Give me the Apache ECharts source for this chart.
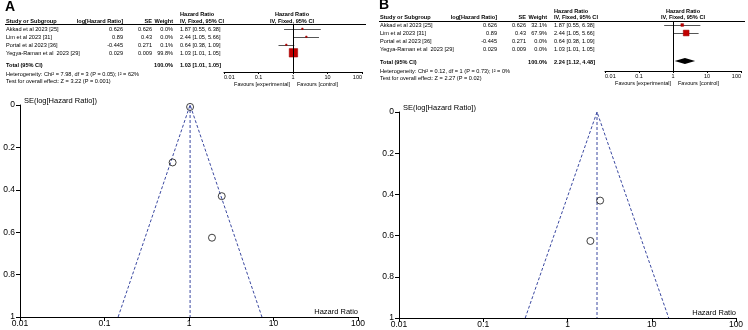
<!DOCTYPE html>
<html>
<head>
<meta charset="utf-8">
<script src="https://cdn.jsdelivr.net/npm/echarts@6/dist/echarts.min.js"></script>
<style>
html, body { margin: 0; padding: 0; background: #fff; }
#chart { width: 748px; height: 330px; }
</style>
</head>
<body>
<div id="chart"></div>
<script>
// study table (same four studies in both panels)
const studies = ['Akkad et al 2023 [25]', 'Lim et al 2023 [31]', 'Portal et al 2023 [36]', 'Yegya-Raman et al  2023 [29]'];
const logHRText = ['0.626', '0.89', '-0.445', '0.029'];
const seText = ['0.626', '0.43', '0.271', '0.009'];
const se = [0.626, 0.43, 0.271, 0.009];
const hr = [1.87, 2.44, 0.64, 1.03];
const ciLow = [0.55, 1.05, 0.38, 1.01];
const ciHigh = [6.38, 5.66, 1.09, 1.05];
const weightA = [0.0, 0.0, 0.1, 99.8];
const weightB = [32.1, 67.9, 0.0, 0.0];

// pooled results, panel A then B
const totalHR = [1.03, 2.24];
const totalLow = [1.01, 1.12];
const totalHigh = [1.05, 4.48];
const heterogeneity = [
  'Heterogeneity: Chi\u00b2 = 7.98, df = 3 (P = 0.05); I\u00b2 = 62%',
  'Heterogeneity: Chi\u00b2 = 0.12, df = 1 (P = 0.73); I\u00b2 = 0%'
];
const overallEffect = [
  'Test for overall effect: Z = 3.22 (P = 0.001)',
  'Test for overall effect: Z = 2.27 (P = 0.02)'
];
// funnel pseudo 95% limits at SE = 1
const funnelLow = [0.145, 0.315];
const funnelHigh = [7.3, 15.9];

const FONT = 'Liberation Sans, Arial, sans-serif';
const BLUE = '#3a48a0';
const TS = 5.6; // table font size

const panels = [
  { dx: 0, label: 'A', labelY: 7, weights: weightA, hdr1: 14, hdr2: 21, rule: 24, row0: 29, totalY: 65, hetY: 74, testY: 81,
    ruleX: [5, 366], forestTop: 24, forestH: 48, yMin: -0.6, yMax: 5.4, forestL: 224, forestW: 138, forestC: 292,
    funnel: { left: 20, width: 338, top: 105, height: 212 }, seLabelY: 101, hrLabelY: 312 },
  { dx: 374, label: 'B', labelY: 5, weights: weightB, hdr1: 11, hdr2: 17, rule: 21, row0: 25, totalY: 62, hetY: 71, testY: 78,
    ruleX: [379, 745], forestTop: 21, forestH: 50, yMin: -0.5, yMax: 5.75, forestL: 605, forestW: 136, forestC: 683,
    funnel: { left: 399, width: 337, top: 112, height: 206 }, seLabelY: 108, hrLabelY: 313 }
];

function txt(text, x, y, opt) {
  opt = opt || {};
  return {
    type: 'text', silent: true, z: 10,
    style: {
      text: text, x: x, y: y,
      fontSize: opt.size || TS, fontFamily: FONT, fontWeight: opt.bold ? 'bold' : 'normal',
      fill: '#000',
      align: opt.align || 'left', textAlign: opt.align || 'left',
      verticalAlign: 'middle', textVerticalAlign: 'middle'
    }
  };
}

function renderStudy(params, api) {
  const y = api.value(3);
  const lo = api.coord([api.value(0), y]);
  const hi = api.coord([api.value(1), y]);
  const c = api.coord([api.value(2), y]);
  const s = Math.max(1.5, 8.5 * api.value(4) / 100);
  const ly = Math.round(c[1]) + 0.5;
  return {
    type: 'group',
    children: [
      { type: 'line', shape: { x1: lo[0], y1: ly, x2: hi[0], y2: ly }, style: { stroke: '#555', lineWidth: 1 } },
      { type: 'rect', shape: { x: c[0] - s / 2, y: c[1] - s / 2, width: s, height: s },
        style: { fill: '#c20000', stroke: '#9a0000', lineWidth: 0.5 } }
    ]
  };
}

function renderDiamond(params, api) {
  const y = api.value(3);
  const lo = api.coord([api.value(0), y]);
  const hi = api.coord([api.value(1), y]);
  const c = api.coord([api.value(2), y]);
  return {
    type: 'polygon',
    shape: { points: [[lo[0], c[1]], [c[0], c[1] - 3], [hi[0], c[1]], [c[0], c[1] + 3]] },
    style: { fill: '#000' }
  };
}

const grid = [], xAxis = [], yAxis = [], series = [], graphic = [];

panels.forEach(function (p, k) {
  const dx = p.dx;
  // panel letter
  graphic.push(txt(p.label, dx + 5, p.labelY, { size: 14, bold: true }));
  // headers
  graphic.push(txt('Hazard Ratio', dx + 180, p.hdr1, { bold: true }));
  graphic.push(txt('Study or Subgroup', dx + 6, p.hdr2, { bold: true }));
  graphic.push(txt('log[Hazard Ratio]', dx + 123, p.hdr2, { bold: true, align: 'right' }));
  graphic.push(txt('SE', dx + 152, p.hdr2, { bold: true, align: 'right' }));
  graphic.push(txt('Weight', dx + 173, p.hdr2, { bold: true, align: 'right' }));
  graphic.push(txt('IV, Fixed, 95% CI', dx + 180, p.hdr2, { bold: true }));
  graphic.push(txt('Hazard Ratio', p.forestC, p.hdr1, { bold: true, align: 'center' }));
  graphic.push(txt('IV, Fixed, 95% CI', p.forestC, p.hdr2, { bold: true, align: 'center' }));
  graphic.push({ type: 'line', silent: true, shape: { x1: p.ruleX[0], y1: p.rule + 0.5, x2: p.ruleX[1], y2: p.rule + 0.5 },
    style: { stroke: '#000', lineWidth: 1 } });
  // study rows
  studies.forEach(function (s, i) {
    const y = p.row0 + 8 * i;
    graphic.push(txt(s, dx + 6, y));
    graphic.push(txt(logHRText[i], dx + 123, y, { align: 'right' }));
    graphic.push(txt(seText[i], dx + 152, y, { align: 'right' }));
    graphic.push(txt(p.weights[i].toFixed(1) + '%', dx + 173, y, { align: 'right' }));
    graphic.push(txt(hr[i].toFixed(2) + ' [' + ciLow[i].toFixed(2) + ', ' + ciHigh[i].toFixed(2) + ']', dx + 180, y));
  });
  graphic.push(txt('Total (95% CI)', dx + 6, p.totalY, { bold: true }));
  graphic.push(txt('100.0%', dx + 173, p.totalY, { bold: true, align: 'right' }));
  graphic.push(txt(totalHR[k].toFixed(2) + ' [' + totalLow[k].toFixed(2) + ', ' + totalHigh[k].toFixed(2) + ']', dx + 180, p.totalY, { bold: true }));
  graphic.push(txt(heterogeneity[k], dx + 6, p.hetY));
  graphic.push(txt(overallEffect[k], dx + 6, p.testY));
  // forest axis captions
  const axisY = p.forestTop + p.forestH;
  graphic.push(txt('Favours [experimental]', p.forestL + 66, axisY + 12, { size: 5.5, align: 'right' }));
  graphic.push(txt('Favours [control]', p.forestL + 73, axisY + 12, { size: 5.5 }));
  // funnel captions
  graphic.push(txt('SE(log[Hazard Ratio])', p.funnel.left + 4, p.seLabelY, { size: 7.5 }));
  graphic.push(txt('Hazard Ratio', p.funnel.left + p.funnel.width, p.hrLabelY, { size: 7.5, align: 'right' }));

  // forest grid
  const fg = grid.length;
  grid.push({ left: p.forestL, width: p.forestW, top: p.forestTop, height: p.forestH });
  xAxis.push({
    type: 'log', logBase: 10, min: 0.01, max: 100, gridIndex: fg,
    axisLine: { onZero: false, lineStyle: { color: '#000', width: 1 } },
    axisTick: { length: 2, lineStyle: { color: '#000' } },
    axisLabel: { fontSize: 5.5, fontFamily: FONT, color: '#000', margin: 2,
      alignMinLabel: 'left', alignMaxLabel: 'right',
      formatter: function (v) { return String(v); } },
    splitLine: { show: false }, minorTick: { show: false }
  });
  yAxis.push({ type: 'value', inverse: true, min: p.yMin, max: p.yMax, gridIndex: fg, show: false });
  const rows = [];
  studies.forEach(function (s, i) {
    if (k === 0 || p.weights[i] > 0) rows.push([ciLow[i], ciHigh[i], hr[i], i, p.weights[i]]);
  });
  series.push({
    type: 'custom', xAxisIndex: fg, yAxisIndex: fg, renderItem: renderStudy, silent: true,
    encode: { x: [0, 1, 2], y: 3 }, data: rows, z: 3,
    markLine: { silent: true, symbol: 'none', label: { show: false },
      lineStyle: { color: '#000', width: 1, type: 'solid' }, data: [{ xAxis: 1 }] }
  });
  series.push({
    type: 'custom', xAxisIndex: fg, yAxisIndex: fg, renderItem: renderDiamond, silent: true,
    encode: { x: [0, 1, 2], y: 3 }, data: [[totalLow[k], totalHigh[k], totalHR[k], 4.5]], z: 4
  });

  // funnel grid
  const ug = grid.length;
  grid.push(p.funnel);
  xAxis.push({
    type: 'log', logBase: 10, min: 0.01, max: 100, gridIndex: ug,
    axisLine: { onZero: false, lineStyle: { color: '#000', width: 1 } },
    axisTick: { length: 4, lineStyle: { color: '#000' } },
    axisLabel: { fontSize: 8.5, fontFamily: FONT, color: '#000', margin: 2, formatter: function (v) { return String(v); } },
    splitLine: { show: false }, minorTick: { show: false }
  });
  yAxis.push({
    type: 'value', inverse: true, min: 0, max: 1, interval: 0.2, gridIndex: ug,
    axisLine: { show: true, onZero: false, lineStyle: { color: '#000', width: 1 } },
    axisTick: { show: true, length: 4, lineStyle: { color: '#000' } },
    axisLabel: { fontSize: 8.5, fontFamily: FONT, color: '#000', margin: 5 },
    splitLine: { show: false }
  });
  const dash = { color: BLUE, width: 1, type: [3, 2] };
  series.push({
    type: 'line', xAxisIndex: ug, yAxisIndex: ug, silent: true, showSymbol: false, lineStyle: dash,
    data: [[funnelLow[k], 1], [totalHR[k], 0], [funnelHigh[k], 1]]
  });
  series.push({
    type: 'line', xAxisIndex: ug, yAxisIndex: ug, silent: true, showSymbol: false, lineStyle: dash,
    data: [[totalHR[k], 0], [totalHR[k], 1]]
  });
  const pts = [];
  studies.forEach(function (s, i) {
    if (k === 0 || p.weights[i] > 0) pts.push([hr[i], se[i]]);
  });
  series.push({
    type: 'scatter', xAxisIndex: ug, yAxisIndex: ug, silent: true, symbol: 'circle', symbolSize: 7, z: 5,
    itemStyle: { color: 'rgba(0,0,0,0)', borderColor: '#111', borderWidth: 1 },
    data: pts
  });
});

const chart = echarts.init(document.getElementById('chart'), null, { renderer: 'canvas' });
chart.setOption({
  animation: false,
  backgroundColor: '#fff',
  grid: grid,
  xAxis: xAxis,
  yAxis: yAxis,
  series: series,
  graphic: graphic
});
</script>
</body>
</html>
